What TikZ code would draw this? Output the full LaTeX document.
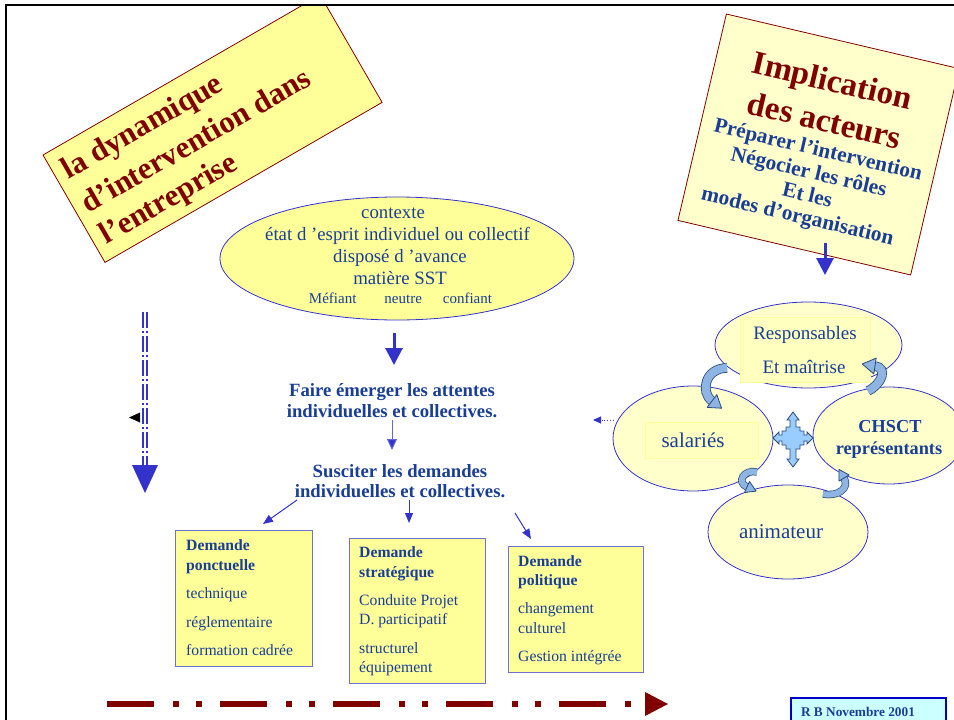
\documentclass[tikz,border=0pt]{standalone}
\usepackage{fontspec}
\setmainfont{Liberation Serif}
\usetikzlibrary{arrows.meta,shapes.geometric,calc}
\definecolor{darkred}{HTML}{800000}
\definecolor{txtblue}{HTML}{1A3E96}
\definecolor{arrblue}{HTML}{3333CC}
\definecolor{yel}{HTML}{FFFF99}
\definecolor{lyel}{HTML}{FFFFCC}
\definecolor{innerfill}{HTML}{FFFFBF}
\definecolor{boxedge}{HTML}{7070D0}
\definecolor{cfill}{HTML}{8EB4E3}
\definecolor{cedge}{HTML}{2B4A78}
\definecolor{qfill}{HTML}{99CCFF}
\definecolor{rbfill}{HTML}{CCFFFF}
\definecolor{rbedge}{HTML}{0000CC}
\begin{document}
\begin{tikzpicture}[x=1pt,y=-1pt,
  ltitle/.style={text=darkred, font=\bfseries\fontsize{31}{37}\selectfont, inner sep=0pt, transform shape},
  rtitle/.style={text=darkred, font=\bfseries\fontsize{33}{40}\selectfont, inner sep=0pt, transform shape},
  rsub/.style={text=txtblue, font=\bfseries\fontsize{21.4}{23}\selectfont, inner sep=0pt, transform shape},
  ctxt/.style={text=txtblue, font=\fontsize{18.8}{21.5}\selectfont, inner sep=0pt},
  ctxsmall/.style={text=txtblue, font=\fontsize{15}{17}\selectfont, inner sep=0pt},
  boldmid/.style={text=txtblue, font=\bfseries\fontsize{18.7}{20}\selectfont, inner sep=0pt},
  dbox/.style={draw=boxedge, fill=yel, line width=1.4pt, inner sep=0pt, anchor=north west},
  dtext/.style={text=txtblue, font=\fontsize{15.7}{19.3}\selectfont, inner sep=0pt, anchor=base west},
  cell/.style={ellipse, draw=arrblue, fill=lyel, line width=0.8pt, inner sep=0pt},
  innerrect/.style={fill=innerfill, draw=yel, line width=0.8pt},
  celltext/.style={text=txtblue, font=\fontsize{19}{21}\selectfont, inner sep=0pt, anchor=base},
  cellbig/.style={text=txtblue, font=\fontsize{21}{23}\selectfont, inner sep=0pt, anchor=base},
  cellbold/.style={text=txtblue, font=\bfseries\fontsize{18.3}{20}\selectfont, inner sep=0pt, anchor=base},
  bigarrow/.style={draw=arrblue, line width=3pt, -{Triangle[width=17pt,length=17pt]}},
  thinarrow/.style={draw=arrblue, line width=1pt, -{Triangle[width=8pt,length=10pt]}},
  bandout/.style={draw=cedge, line width=#1},
  bandin/.style={draw=cfill, line width=#1},
  headshape/.style={fill=cfill, draw=cedge, line width=0.8pt, line join=round}
]
\useasboundingbox (0,0) rectangle (954,720);
\fill[white] (0,0) rectangle (954,720);

% ---------- left rotated title box ----------
\begin{scope}
\clip (6,5) rectangle (954,720);
\begin{scope}[shift={(43,155)}, rotate=30]
  \draw[fill=yel, draw=darkred, line width=0.8pt] (0,0) rectangle (320,124);
  \node[ltitle, anchor=base west] (lt1) at (10,34.3) {la dynamique};
  \node[ltitle, anchor=base west] (lt2) at (10,73.7) {d’intervention dans};
  \node[ltitle, anchor=base west] (lt3) at (10,109.8) {l’entreprise};
\end{scope}
\end{scope}

% ---------- right rotated box ----------
\begin{scope}[shift={(818.5,144.5)}, rotate=-13.2]
  \draw[fill=lyel, draw=darkred, line width=0.8pt] (-119.5,-106) rectangle (119.5,106);
  \node[rtitle, anchor=base] (rt1) at (-1,-54.4) {Implication};
  \node[rtitle, anchor=base] (rt2) at (0.5,-13.9) {des acteurs};
  \node[rsub, anchor=base] (rs1) at (1,11.6) {Préparer l’intervention};
  \node[rsub, anchor=base] (rs2) at (-3,35.4) {Négocier les rôles};
  \node[rsub, anchor=base] (rs3) at (0.8,58.4) {Et les};
  \node[rsub, anchor=base] (rs4) at (-4,80.9) {modes d’organisation};
\end{scope}
\coordinate (rbA) at (825,243);
\coordinate (rbB) at (825,275);
\draw[bigarrow] (rbA) -- (rbB);

% ---------- context ellipse ----------
\node[ellipse, draw=arrblue, fill=yel, line width=0.8pt, minimum width=354pt, minimum height=123pt, inner sep=0pt] (ctx) at (397,258.5) {};
\node[ctxt, anchor=base] (c1) at (393,218) {contexte};
\node[ctxt, anchor=base] (c2) at (397.5,240) {état d ’esprit individuel ou collectif};
\node[ctxt, anchor=base] (c3) at (400,262.7) {disposé d ’avance};
\node[ctxt, anchor=base] (c4) at (400,284) {matière SST};
\node[ctxsmall, anchor=base] (c5) at (400.5,303) {Méfiant\hspace{28pt}neutre\hspace{21pt}confiant};

\coordinate (ctxA) at (394,333);
\coordinate (ctxB) at (394,365);
\draw[bigarrow] (ctxA) -- (ctxB);

% ---------- central texts ----------
\node[boldmid, anchor=base] (fa1) at (392,396) {Faire émerger les attentes};
\node[boldmid, anchor=base] (fa2) at (392,417) {individuelles et collectives.};
\coordinate (faA) at (392,420);
\coordinate (faB) at (392,450);
\draw[draw=arrblue!75, line width=1pt, -{Triangle[width=10pt,length=11pt,fill=arrblue]}] (faA) -- (faB);
\node[boldmid, anchor=base] (su1) at (400,477) {Susciter les demandes};
\node[boldmid, anchor=base] (su2) at (400,497) {individuelles et collectives.};

% ---------- demand boxes ----------
\node[dbox, minimum width=137pt, minimum height=136pt] (d1) at (175,530) {};
\node[dbox, minimum width=136pt, minimum height=145pt] (d2) at (349,538) {};
\node[dbox, minimum width=135pt, minimum height=126pt] (d3) at (508,546) {};
\node[dtext] (d1t) at (186,550.7) {\parbox[t]{120pt}{\fontsize{15.7}{19.3}\selectfont\raggedright
  \textbf{Demande}\\\textbf{ponctuelle}\\[9.3pt]technique\\[9.3pt]réglementaire\\[9.3pt]formation cadrée}};
\node[dtext] (d2t) at (359,557.7) {\parbox[t]{120pt}{\fontsize{15.7}{19.3}\selectfont\raggedright
  \textbf{Demande}\\\textbf{stratégique}\\[9.3pt]Conduite Projet\\D. participatif\\[9.3pt]structurel\\équipement}};
\node[dtext] (d3t) at (518,566) {\parbox[t]{120pt}{\fontsize{15.7}{19.3}\selectfont\raggedright
  \textbf{Demande}\\\textbf{politique}\\[9.3pt]changement\\culturel\\[9.3pt]Gestion intégrée}};

\coordinate (s1) at (297,500); \coordinate (e1) at (263,524);
\coordinate (s2) at (409,500); \coordinate (e2) at (409,523);
\coordinate (s3) at (515,513); \coordinate (e3) at (531,539);
\draw[thinarrow] (s1) -- (e1);
\draw[thinarrow] (s2) -- (e2);
\draw[thinarrow] (s3) -- (e3);

% ---------- actors cluster ----------
\node[cell, minimum width=187pt, minimum height=86pt] (resp) at (808.5,345) {};
\node[cell, minimum width=160pt, minimum height=105pt] (sal) at (693,438.5) {};
\node[cell, minimum width=152pt, minimum height=97pt] (chs) at (889,435.5) {};
\node[cell, minimum width=160pt, minimum height=94pt] (anim) at (788,532) {};
\draw[innerrect] (740,317) rectangle (870,382);
\draw[innerrect] (645,422) rectangle (758,458);
\node[celltext] (rp1) at (805,339) {Responsables};
\node[celltext] (rp2) at (804,373) {Et maîtrise};
\node[cellbig] (salt) at (693,447) {salariés};
\node[cellbold] (ch1) at (890,432) {CHSCT};
\node[cellbold] (ch2) at (889,454) {représentants};
\node[cellbig] (ant) at (781,538) {animateur};

% curved block arrows
\draw[bandout=9.6pt] (727,368) .. controls (705,368) and (700,392) .. (712,401);
\draw[bandin=8pt] (727,368) .. controls (705,368) and (700,392) .. (712,401);
\draw[headshape] (707.2,407.4) -- (721.6,408.2) -- (716.8,394.6) -- cycle;

\draw[bandout=9.6pt] (868,391) .. controls (882,384) and (888,368) .. (875,366);
\draw[bandin=8pt] (868,391) .. controls (882,384) and (888,368) .. (875,366);
\draw[headshape] (876.2,358.1) -- (862.2,364) -- (873.8,373.9) -- cycle;

\draw[bandout=7.4pt] (757,472) .. controls (744,469) and (736,482) .. (747,487);
\draw[bandin=6pt] (757,472) .. controls (744,469) and (736,482) .. (747,487);
\draw[headshape] (744.5,492.5) -- (756.1,491.1) -- (749.5,481.5) -- cycle;

\draw[bandout=7.4pt] (823,494) .. controls (838,497) and (850,488) .. (844,478);
\draw[bandin=6pt] (823,494) .. controls (838,497) and (850,488) .. (844,478);
\draw[headshape] (849.1,474.9) -- (838.9,469.4) -- (838.9,481.1) -- cycle;

% quad arrow
\draw[fill=qfill, draw=cedge, line width=0.8pt, shift={(793,438)}]
  (0,-26) -- (6,-18) -- (3,-18) -- (3,-11) -- (7,-11) -- (7,-7) -- (11,-7) -- (11,-3) -- (14,-3) -- (14,-6)
  -- (20,0) -- (14,6) -- (14,3) -- (11,3) -- (11,7) -- (7,7) -- (7,11) -- (3,11) -- (3,21) -- (6,21)
  -- (0,29) -- (-6,21) -- (-3,21) -- (-3,11) -- (-7,11) -- (-7,7) -- (-11,7) -- (-11,3) -- (-14,3) -- (-14,6)
  -- (-20,0) -- (-14,-6) -- (-14,-3) -- (-11,-3) -- (-11,-7) -- (-7,-7) -- (-7,-11) -- (-3,-11) -- (-3,-18) -- (-6,-18) -- cycle;

% dotted arrow from salaries
\coordinate (dotS) at (614,420);
\coordinate (dotE) at (593,420);
\draw[draw=arrblue, dotted, line width=0.9pt, -{Triangle[width=7pt,length=8pt]}] (dotS) -- (dotE);

% ---------- left vertical dash-dot arrow ----------
\coordinate (lvA) at (145,312);
\coordinate (lvB) at (145,466);
\draw[draw=arrblue, line width=1.6pt, double=white, double distance=2.4pt,
      dash pattern=on 16pt off 3pt on 2pt off 3pt] (lvA) -- (lvB);
\fill[arrblue] (132,465) -- (158,465) -- (145,493) -- cycle;
\fill[black] (129,417.5) -- (140,412.5) -- (140,422.5) -- cycle;

% ---------- bottom dash-dot-dot arrow ----------
\coordinate (botA) at (107,704);
\coordinate (botB) at (640,704);
\draw[draw=darkred, line width=6pt,
      dash pattern=on 47pt off 19pt on 6pt off 17pt on 6pt off 18pt] (botA) -- (botB);
\fill[darkred] (645,692) -- (668,704) -- (645,716) -- cycle;

% ---------- signature box ----------
\node[draw=rbedge, fill=rbfill, line width=1.5pt, minimum width=155pt, minimum height=30pt, inner sep=0pt, anchor=north west] (rb) at (790,697) {};
\node[text=txtblue, font=\bfseries\fontsize{13.3}{15}\selectfont, inner sep=0pt, anchor=base] (rbt) at (858,716) {R B Novembre 2001};

% ---------- frame ----------
\draw[line width=2.5pt] (960,5) -- (6,5) -- (6,725);
\end{tikzpicture}
\end{document}
